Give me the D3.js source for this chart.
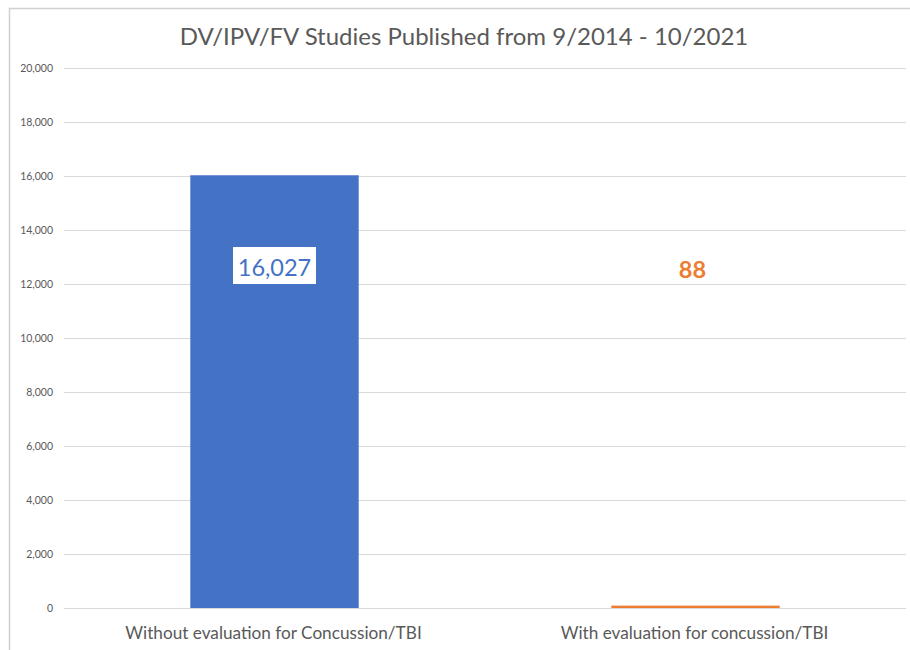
<!DOCTYPE html>
<html><head><meta charset="utf-8">
<script src="https://cdn.jsdelivr.net/npm/d3@7"></script>
<style>body{margin:0;background:#fff;} svg{display:block;}</style>
</head><body>
<svg id="c" width="910" height="650"></svg>
<script>
const title = "DV/IPV/FV Studies Published from 9/2014 - 10/2021";
const categories = ["Without evaluation for Concussion/TBI", "With evaluation for concussion/TBI"];
const values = [16027, 88];
const colors = ["#4472C4", "#ED7D31"];
const yTicks = [0, 2000, 4000, 6000, 8000, 10000, 12000, 14000, 16000, 18000, 20000];

(function () {
const svg = d3.select("#c");
const font = "Lato, 'Open Sans', sans-serif";
const pLeft = 64, pRight = 906, pTop = 68, pBottom = 608;

// frame
svg.append("path").attr("d", `M9.5,650 V8.5 H910`).attr("fill","none").attr("stroke","#d0d0d0").attr("stroke-width",1.5);

const x = d3.scaleBand().domain(categories).range([pLeft, pRight]).padding(0);
const y = d3.scaleLinear().domain([0, 20000]).range([pBottom, pTop]);

// gridlines
svg.append("g").selectAll("line").data(yTicks).join("line")
  .attr("x1", pLeft).attr("x2", pRight)
  .attr("y1", d => y(d) + 0.5).attr("y2", d => y(d) + 0.5)
  .attr("stroke", "#d9d9d9").attr("stroke-width", 1);

// y axis labels
const yAxis = d3.axisLeft(y).tickValues(yTicks).tickSize(0).tickPadding(0).tickFormat(d3.format(","));
const ga = svg.append("g").attr("transform", `translate(${pLeft-11},0)`).call(yAxis);
ga.select(".domain").remove();
ga.selectAll("text").attr("fill", "#595959").style("font-family", font).style("font-size", "10.5px");

// bars
const bw = x.bandwidth() * 0.4;
svg.append("g").selectAll("rect").data(values).join("rect")
  .attr("x", (d, i) => x(categories[i]) + (x.bandwidth() - bw) / 2)
  .attr("width", bw)
  .attr("y", d => y(d))
  .attr("height", d => y(0) - y(d))
  .attr("fill", (d, i) => colors[i]);

// x labels
svg.append("g").selectAll("text").data(categories).join("text")
  .attr("x", d => x(d) + x.bandwidth() / 2 - 1)
  .attr("y", 639)
  .attr("text-anchor", "middle")
  .attr("fill", "#595959")
  .style("font-family", font).style("font-size", "17.2px")
  .text(d => d);

// value labels
const fmt = d3.format(",");
const lblY = 276;
values.forEach((v, i) => {
  const cx = x(categories[i]) + x.bandwidth() / 2 - (i === 1 ? 3 : 0);
  const t = svg.append("text")
    .attr("x", cx).attr("y", lblY + (i === 1 ? 2 : 0))
    .attr("text-anchor", "middle")
    .attr("fill", colors[i])
    .style("font-family", font).style("font-size", "23.5px")
    .style("font-weight", i === 1 ? "bold" : "normal")
    .text(fmt(v));
  if (i === 0) {
    const bb = t.node().getBBox();
    svg.insert("rect", () => t.node())
      .attr("x", cx - 41.5).attr("y", 247).attr("width", 83).attr("height", 37)
      .attr("fill", "#fff");
  }
});

// title
svg.append("text").attr("x", 464).attr("y", 45).attr("text-anchor", "middle")
  .attr("fill", "#595959").style("font-family", font).style("font-size", "24px")
  .text(title);
})();
</script>
</body></html>
